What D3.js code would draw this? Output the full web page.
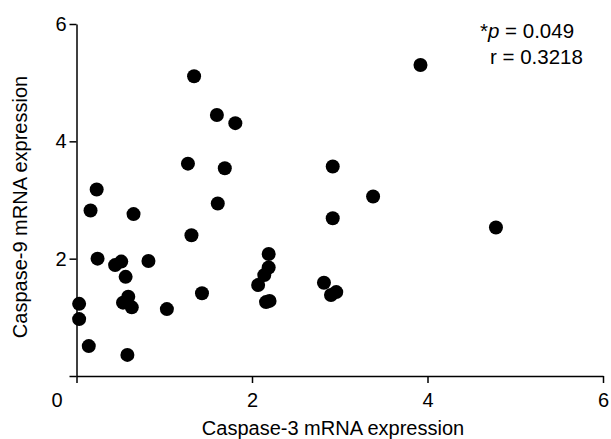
<!DOCTYPE html>
<html>
<head>
<meta charset="utf-8">
<script src="https://cdn.jsdelivr.net/npm/d3@7"></script>
<style>
body{margin:0;background:#fff}
text{font-family:"Liberation Sans",Arial,sans-serif;fill:#000}
</style>
</head>
<body>
<svg></svg>
<script>
// caspase-3 (x) vs caspase-9 (y) mRNA
var casp3 = [3.92,1.34,1.60,1.81,1.27,1.69,2.92,3.38,0.23,0.16,0.65,1.61,2.92,4.78,1.31,
             0.24,0.44,0.51,0.82,2.19,2.19,2.14,0.56,2.07,2.82,1.43,0.59,0.53,0.63,1.03,
             2.16,2.20,2.90,2.96,0.03,0.03,0.14,0.58]
var casp9 = [5.30,5.11,4.45,4.31,3.62,3.54,3.57,3.06,3.18,2.82,2.76,2.94,2.69,2.53,2.40,
             2.00,1.89,1.95,1.96,2.08,1.85,1.72,1.69,1.55,1.59,1.41,1.35,1.25,1.17,1.14,
             1.26,1.28,1.38,1.43,1.23,0.97,0.51,0.36]
var xTicks = [0,2,4,6]
var yTicks = [0,2,4,6]
var statLines = ["p = 0.049","r = 0.3218"]

var screen={width:611,height:439}
var svg = d3.select("svg").attr("width",screen.width).attr("height",screen.height)

var xScale = d3.scaleLinear().domain([0,6]).range([76.5,603])
var yScale = d3.scaleLinear().domain([0,6]).range([376,24])

var points = casp3.map(function(d,i){return {x:d,y:casp9[i]}})

var xAxis = svg.append("g")
    .attr("transform","translate(0,376)")
    .call(d3.axisBottom(xScale).tickValues(xTicks).tickSize(7).tickSizeOuter(0).tickPadding(10)
        .tickFormat(d3.format("d")))
xAxis.selectAll("text").style("font-size","20px")
    .attr("dx",function(d){return d==0 ? -20 : 0})

var yAxis = svg.append("g")
    .attr("transform","translate(76.5,0)")
    .call(d3.axisLeft(yScale).tickValues(yTicks).tickSize(7).tickSizeOuter(0).tickPadding(3)
        .tickFormat(function(d){return d==0 ? "" : d}))
yAxis.selectAll("text").style("font-size","20px")

svg.selectAll(".domain, .tick line").attr("stroke","#000").attr("stroke-width",1.5)

svg.append("text")
    .attr("x",333).attr("y",435)
    .attr("text-anchor","middle")
    .style("font-size","20px")
    .text("Caspase-3 mRNA expression")

svg.append("text")
    .attr("transform","translate(27,207) rotate(-90)")
    .attr("text-anchor","middle")
    .style("font-size","20px")
    .text("Caspase-9 mRNA expression")

svg.selectAll("circle")
    .data(points)
    .enter()
    .append("circle")
    .attr("cx",function(p){return xScale(p.x)})
    .attr("cy",function(p){return yScale(p.y)})
    .attr("r",7)
    .attr("fill","#000")

var t1 = svg.append("text").attr("x",480).attr("y",38).style("font-size","20.5px")
t1.append("tspan").text("*")
t1.append("tspan").style("font-style","italic").text(statLines[0].slice(0,1))
t1.append("tspan").text(statLines[0].slice(1))
svg.append("text").attr("x",490).attr("y",64).style("font-size","20.5px").text(statLines[1])
</script>
</body>
</html>
